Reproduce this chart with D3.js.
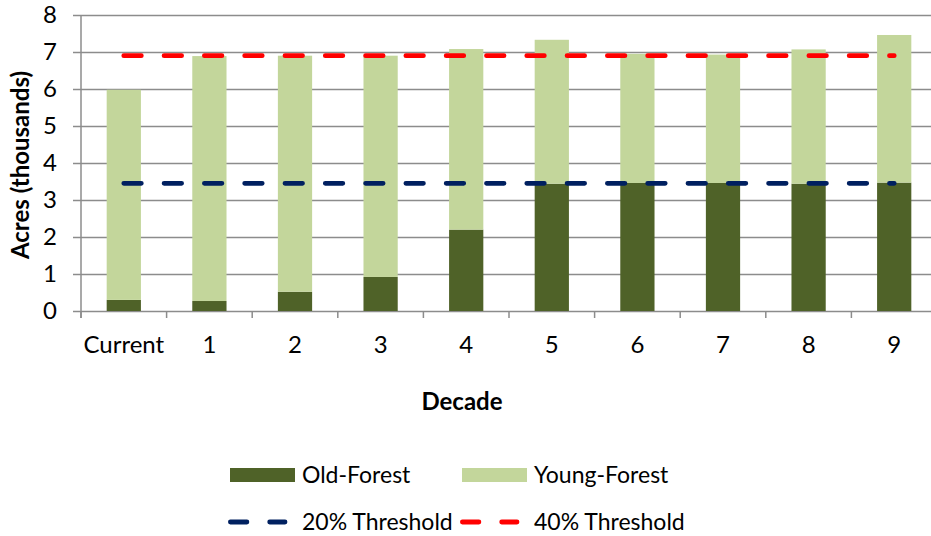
<!DOCTYPE html>
<html>
<head>
<meta charset="utf-8">
<script src="https://cdn.jsdelivr.net/npm/d3@7"></script>
<style>
  html, body { margin: 0; padding: 0; background: #fff; }
  svg { display: block; font-family: Lato, "Open Sans", sans-serif; }
</style>
</head>
<body>
<svg id="chart" width="931" height="536"></svg>
<script>
// Acres (thousands) by decade
const categories = ["Current", "1", "2", "3", "4", "5", "6", "7", "8", "9"];
const oldForest   = [0.30, 0.27, 0.52, 0.92, 2.20, 3.44, 3.46, 3.46, 3.44, 3.47];
const youngForest = [5.68, 6.62, 6.38, 5.98, 4.88, 3.89, 3.49, 3.47, 3.63, 3.99];
const threshold20 = [3.45, 3.45, 3.45, 3.45, 3.45, 3.45, 3.45, 3.45, 3.45, 3.45];
const threshold40 = [6.90, 6.90, 6.90, 6.90, 6.90, 6.90, 6.90, 6.90, 6.90, 6.90];
const yTicks = [0, 1, 2, 3, 4, 5, 6, 7, 8];

const colors = {
  old: "#4F6228",
  young: "#C3D69B",
  t20: "#002060",
  t40: "#FF0000",
  grid: "#8C8C8C"
};

const svg = d3.select("#chart");
const plotLeft = 81, plotRight = 937, plotTop = 15, plotBottom = 311;
const fontSize = 24;
const legendFont = 23;

const x = d3.scaleBand().domain(categories).range([plotLeft, plotRight])
  .paddingInner(0.6).paddingOuter(0.3);
const step = x.step();
const y = d3.scaleLinear().domain([0, 8]).range([plotBottom, plotTop]);

// gridlines + y tick marks
const yAxis = d3.axisLeft(y).tickValues(yTicks).tickSize(-(plotRight - plotLeft)).tickSizeOuter(0)
  .tickFormat("");
const gy = svg.append("g").attr("transform", `translate(${plotLeft},0)`).call(yAxis);
gy.select(".domain").remove();
gy.selectAll(".tick line").attr("stroke", colors.grid).attr("stroke-width", 1.5).attr("x1", -8);

// y tick labels
svg.append("g").selectAll("text").data(yTicks).join("text")
  .attr("x", 57).attr("y", d => y(d)).attr("dy", "0.35em")
  .attr("text-anchor", "end").attr("font-size", fontSize).attr("fill", "#000")
  .text(d => d);

// y axis line
svg.append("line").attr("x1", plotLeft).attr("x2", plotLeft).attr("y1", plotTop).attr("y2", plotBottom + 7)
  .attr("stroke", colors.grid).attr("stroke-width", 1.5);

// x tick marks at band boundaries
const boundaries = categories.map((c, i) => plotLeft + i * step).concat([plotRight]);
svg.append("g").selectAll("line").data(boundaries).join("line")
  .attr("x1", d => d).attr("x2", d => d).attr("y1", plotBottom).attr("y2", plotBottom + 7)
  .attr("stroke", colors.grid).attr("stroke-width", 1.5);

// x tick labels
svg.append("g").selectAll("text").data(categories).join("text")
  .attr("x", d => x(d) + x.bandwidth() / 2).attr("y", 353)
  .attr("text-anchor", "middle").attr("font-size", fontSize).attr("fill", "#000")
  .text(d => d);

// stacked bars
const rows = categories.map((c, i) => ({ cat: c, old: oldForest[i], young: youngForest[i] }));
const stack = d3.stack().keys(["old", "young"])(rows);
svg.append("g").selectAll("g").data(stack).join("g")
  .attr("fill", d => d.key === "old" ? colors.old : colors.young)
  .selectAll("rect").data(d => d).join("rect")
  .attr("x", d => x(d.data.cat))
  .attr("width", x.bandwidth())
  .attr("y", d => y(d[1]))
  .attr("height", d => y(d[0]) - y(d[1]));

// threshold lines
const dash = "17.5 22.8";
const line = d3.line().x((d, i) => x(categories[i]) + x.bandwidth() / 2).y(d => y(d));
[[threshold20, colors.t20], [threshold40, colors.t40]].forEach(([vals, col]) => {
  svg.append("path").datum(vals).attr("d", line)
    .attr("fill", "none").attr("stroke", col).attr("stroke-width", 4.8)
    .attr("stroke-linecap", "round").attr("stroke-dasharray", dash);
});

// axis titles
svg.append("text").attr("transform", `translate(29,${(plotTop + plotBottom) / 2 + 2}) rotate(-90)`)
  .attr("text-anchor", "middle").attr("font-size", fontSize).attr("font-weight", "bold")
  .text("Acres (thousands)");
svg.append("text").attr("x", 462).attr("y", 410)
  .attr("text-anchor", "middle").attr("font-size", fontSize).attr("font-weight", "bold")
  .text("Decade");

// legend
const legend = svg.append("g");
const swatches = [
  { label: "Old-Forest", color: colors.old, x: 230 },
  { label: "Young-Forest", color: colors.young, x: 462 }
];
swatches.forEach(s => {
  legend.append("rect").attr("x", s.x).attr("y", 468).attr("width", 65).attr("height", 14).attr("fill", s.color);
  legend.append("text").attr("x", s.x + 72).attr("y", 483).attr("font-size", legendFont).text(s.label);
});
const lineKeys = [
  { label: "20% Threshold", color: colors.t20, x: 228 },
  { label: "40% Threshold", color: colors.t40, x: 460 }
];
lineKeys.forEach(s => {
  legend.append("line").attr("x1", s.x + 2.4).attr("x2", s.x + 57).attr("y1", 522).attr("y2", 522)
    .attr("stroke", s.color).attr("stroke-width", 4.8).attr("stroke-linecap", "round")
    .attr("stroke-dasharray", "16.5 22.8");
  legend.append("text").attr("x", s.x + 74).attr("y", 530).attr("font-size", legendFont).text(s.label);
});
</script>
</body>
</html>
